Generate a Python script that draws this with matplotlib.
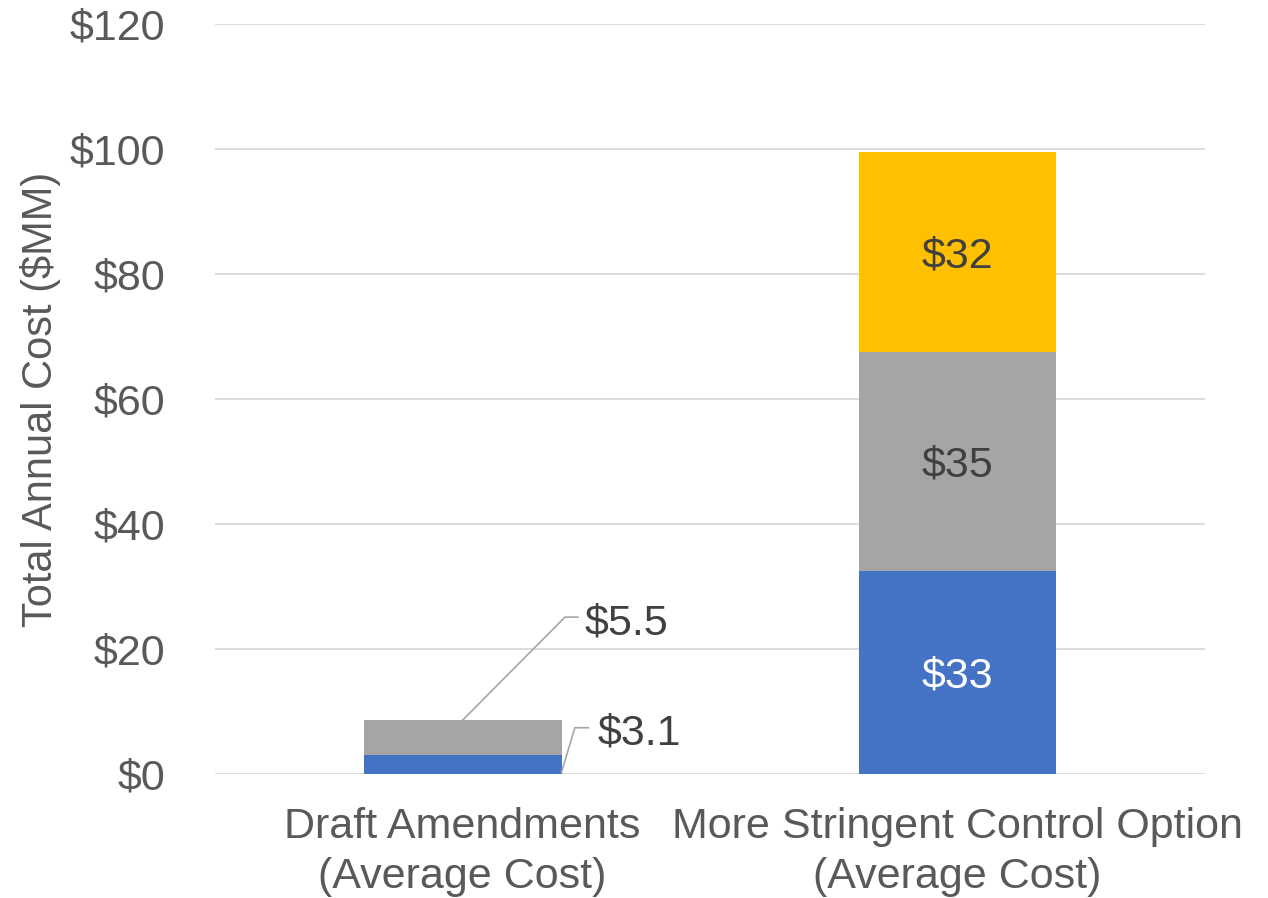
from matplotlib import pyplot as plt
import numpy as np

categories = ["Draft Amendments\n(Average Cost)", "More Stringent Control Option\n(Average Cost)"]
blue_vals = [3.1, 32.5]
gray_vals = [5.5, 35.0]
yellow_vals = [0.0, 32.0]
blue_labels = ["$3.1", "$33"]
gray_labels = ["$5.5", "$35"]
yellow_labels = ["", "$32"]
yticks = [0, 20, 40, 60, 80, 100, 120]

plt.rcParams['font.family'] = ['Liberation Sans', 'DejaVu Sans']
plt.rcParams['font.size'] = 31

fig = plt.figure(figsize=(12.68, 8.98), dpi=100)
ax = fig.add_axes([0.1696, 0.1381, 0.7807, 0.8352])

x = np.arange(len(categories))
w = 0.4
blue = np.array(blue_vals)
gray = np.array(gray_vals)
yellow = np.array(yellow_vals)

ax.bar(x, blue, w, color="#4472C4", zorder=2)
ax.bar(x, gray, w, bottom=blue, color="#A5A5A5", zorder=2)
ax.bar(x, yellow, w, bottom=blue + gray, color="#FFC000", zorder=2)

ax.set_xlim(-0.5, 1.5)
ax.set_ylim(0, 120)
ax.set_yticks(yticks)
ax.set_yticklabels(["$%d" % t for t in yticks])
ax.set_xticks(x)
ax.set_xticklabels(categories, linespacing=1.3)
ax.tick_params(axis='y', length=0, pad=36, colors="#595959")
ax.tick_params(axis='x', length=0, pad=24, colors="#595959")
ax.grid(axis='y', color="#D9D9D9", lw=1.3, zorder=0)
for s in ax.spines.values():
    s.set_visible(False)
ax.set_ylabel("Total Annual Cost ($MM)", color="#595959", fontsize=30, labelpad=6)

# labels inside the big bar
kw = dict(ha='center', va='center_baseline')
ax.text(x[1], blue[1] / 2, blue_labels[1], color="white", **kw)
ax.text(x[1], blue[1] + gray[1] / 2, gray_labels[1], color="#404040", **kw)
ax.text(x[1], blue[1] + gray[1] + yellow[1] / 2, yellow_labels[1], color="#404040", **kw)

# leader-line labels for the small bar
lc = "#A6A6A6"
top = blue[0] + gray[0]
ax.plot([x[0], x[0] + 0.207, x[0] + 0.233], [top, 25.1, 25.1], color=lc, lw=1.2, zorder=3)
ax.text(x[0] + 0.247, 24.8, gray_labels[0], ha='left', va='center_baseline', color="#404040")
ax.plot([x[0] + w / 2, x[0] + 0.227, x[0] + 0.254], [0.3, 7.4, 7.4], color=lc, lw=1.2, zorder=3)
ax.text(x[0] + 0.272, 7.2, blue_labels[0], ha='left', va='center_baseline', color="#404040")

fig.savefig("out.png", dpi=100)
